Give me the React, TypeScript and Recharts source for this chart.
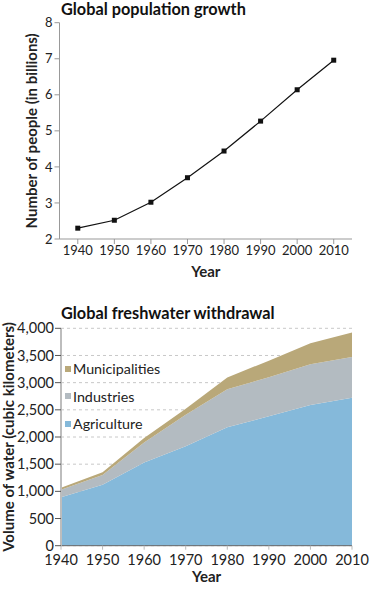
import { LineChart, Line, AreaChart, Area, XAxis, YAxis, CartesianGrid } from 'recharts'

const years = [1940, 1950, 1960, 1970, 1980, 1990, 2000, 2010]
const population = [2.3, 2.52, 3.02, 3.7, 4.44, 5.27, 6.14, 6.96]

const agriculture = [890, 1120, 1530, 1830, 2180, 2380, 2590, 2720]
const industries = [140, 180, 370, 580, 700, 720, 750, 750]
const municipalities = [35, 50, 80, 110, 215, 305, 385, 455]

const popTicks = [2, 3, 4, 5, 6, 7, 8]
const waterTicks = [0, 500, 1000, 1500, 2000, 2500, 3000, 3500, 4000]

const FONT = 'Lato, "Open Sans", sans-serif'
const TXT = '#222'

const popData = years.map((y, i) => ({ year: y, pop: population[i] }))
const waterData = years.map((y, i) => ({
  year: y,
  agri: agriculture[i],
  ind: industries[i],
  mun: municipalities[i],
}))

const series = [
  { key: 'agri', name: 'Agriculture', color: '#85b9da' },
  { key: 'ind', name: 'Industries', color: '#b3bbc1' },
  { key: 'mun', name: 'Municipalities', color: '#b9a879' },
]

function SquareDot(props: any) {
  const { cx, cy } = props
  if (cx == null || cy == null) return null
  return <rect x={cx - 2.5} y={cy - 2.5} width={5} height={5} fill="#111" />
}

// legend drawn as an overlay so it doesn't eat into the plot area
function WaterLegend() {
  const items = [...series].reverse()
  return (
    <div style={{ position: 'absolute', left: 65, top: 355, fontFamily: FONT, fontSize: 14.3, color: TXT }}>
      {items.map(s => (
        <div key={s.key} style={{ height: 27.5, display: 'flex', alignItems: 'center', whiteSpace: 'nowrap' }}>
          <span style={{ display: 'inline-block', width: 6, height: 6, background: s.color, marginRight: 2 }} />
          {s.name}
        </div>
      ))}
    </div>
  )
}

const titleStyle = {
  position: 'absolute' as const,
  left: 61,
  fontFamily: FONT,
  fontWeight: 700,
  fontSize: 16.3,
  lineHeight: '16px',
  color: '#111',
  whiteSpace: 'nowrap' as const,
}

const labelStyle = { fontFamily: FONT, fontWeight: 700, fontSize: 15, fill: TXT }

export default function App() {
  return (
    <div style={{ position: 'absolute', left: 0, top: 0, width: 370, height: 590, background: '#fff' }}>
      <div style={{ ...titleStyle, top: 1.4 }}>Global population growth</div>
      <div style={{ position: 'absolute', left: 0, top: 0 }}>
        <LineChart width={370} height={290} data={popData} margin={{ top: 22.7, right: 18, left: 0, bottom: 0 }}>
          <XAxis
            dataKey="year"
            type="number"
            domain={[1935, 2015]}
            ticks={years}
            height={51}
            stroke="#999"
            tickSize={5}
            tickMargin={2}
            tick={{ fill: TXT, fontSize: 13, fontFamily: FONT }}
            label={{ value: 'Year', position: 'insideBottom', offset: 13, style: labelStyle }}
          />
          <YAxis
            domain={[2, 8]}
            ticks={popTicks}
            width={59.5}
            stroke="#999"
            tickSize={5}
            tickMargin={2}
            tick={{ fill: TXT, fontSize: 13, fontFamily: FONT }}
            label={{ value: 'Number of people (in billions)', angle: -90, position: 'insideLeft', offset: 32, style: { ...labelStyle, textAnchor: 'middle' } }}
          />
          <Line dataKey="pop" stroke="#111" strokeWidth={1.2} dot={<SquareDot />} activeDot={false} isAnimationActive={false} />
        </LineChart>
      </div>

      <div style={{ ...titleStyle, top: 304.5 }}>Global freshwater withdrawal</div>
      <div style={{ position: 'absolute', left: 0, top: 290 }}>
        <AreaChart width={370} height={300} data={waterData} margin={{ top: 38.3, right: 18, left: 0, bottom: 0 }}>
          <CartesianGrid horizontal vertical={false} stroke="#c8c8c8" strokeDasharray="3 3" />
          <XAxis
            dataKey="year"
            type="number"
            domain={[1940, 2010]}
            ticks={years}
            height={44.3}
            stroke="#666"
            tickLine={{ stroke: '#bbb' }}
            tickSize={4}
            tickMargin={5}
            tick={{ fill: TXT, fontSize: 14.5, fontFamily: FONT }}
            label={{ value: 'Year', position: 'insideBottom', offset: 8, style: labelStyle }}
          />
          <YAxis
            domain={[0, 4000]}
            ticks={waterTicks}
            width={61}
            axisLine={{ stroke: '#bdbdbd', strokeWidth: 2 }}
            tickLine={{ stroke: '#555' }}
            tickSize={6}
            tickMargin={1}
            tickFormatter={(v: number) => v.toLocaleString('en-US')}
            tick={{ fill: TXT, fontSize: 14.5, fontFamily: FONT }}
            label={{ value: 'Volume of water (cubic kilometers)', angle: -90, position: 'insideLeft', offset: 8.5, style: { ...labelStyle, textAnchor: 'middle' } }}
          />
          {series.map(s => (
            <Area
              key={s.key}
              type="linear"
              dataKey={s.key}
              name={s.name}
              stackId="w"
              stroke="none"
              fill={s.color}
              fillOpacity={1}
              isAnimationActive={false}
            />
          ))}
        </AreaChart>
      </div>
      <WaterLegend />
    </div>
  )
}
